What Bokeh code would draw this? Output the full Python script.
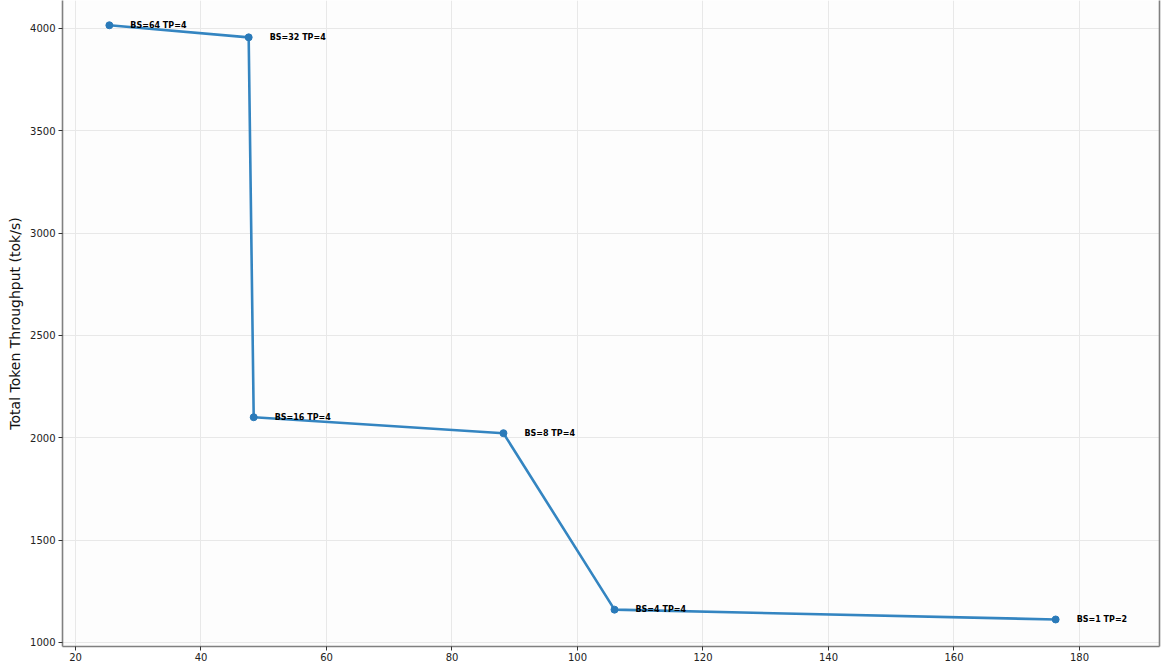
from bokeh.plotting import figure
from bokeh.models import ColumnDataSource, LinearAxis, Range1d, SingleIntervalTicker, FixedTicker
from bokeh.embed import file_html
from bokeh.resources import INLINE
from bokeh.core.properties import value

labels = ["BS=64 TP=4", "BS=32 TP=4", "BS=16 TP=4", "BS=8 TP=4", "BS=4 TP=4", "BS=1 TP=2"]
latency = [25.4, 47.6, 48.4, 88.2, 105.9, 176.2]
throughput = [4015, 3956, 2100, 2022, 1160, 1112]

src = ColumnDataSource(dict(x=latency, y=throughput, label=labels))

FONT = "DejaVu Sans"
p = figure(width=1170, height=663, output_backend="svg", toolbar_location=None,
           x_range=Range1d(17.93, 192.75), y_range=Range1d(980, 4136),
           min_border_left=62, min_border_right=11, min_border_top=0, min_border_bottom=0)
p.outline_line_color = None
p.background_fill_color = "#fdfdfd"
p.border_fill_color = "white"

p.line("x", "y", source=src, line_color="#3485c1", line_width=2.6)
p.scatter("x", "y", source=src, size=7, fill_color="#2a7ab9", line_color="#2a7ab9")
p.text("x", "y", text="label", source=src, x_offset=21, y_offset=0,
       text_baseline="middle", text_align="left", text_font_size="8px",
       text_font_style="bold", text_color="black", text_font=value(FONT))

for ax in (p.xaxis[0], p.yaxis[0]):
    ax.axis_line_color = "#808080"
    ax.axis_line_width = 1.6
    ax.major_tick_line_color = "#333333"
    ax.major_tick_out = 4
    ax.major_tick_in = 0
    ax.minor_tick_line_color = None
    ax.major_label_standoff = 3
    ax.major_label_text_font = FONT
    ax.major_label_text_font_size = "10px"
    ax.major_label_text_color = "#222222"

p.xaxis[0].major_label_standoff = 2
p.xaxis[0].ticker = SingleIntervalTicker(interval=20)
p.yaxis[0].ticker = SingleIntervalTicker(interval=500)
p.yaxis[0].axis_label = "Total Token Throughput (tok/s)"
p.yaxis[0].axis_label_text_font = FONT
p.yaxis[0].axis_label_text_font_size = "14px"
p.yaxis[0].axis_label_text_font_style = "normal"
p.yaxis[0].axis_label_text_color = "#111111"
p.yaxis[0].axis_label_standoff = 4

right = LinearAxis(axis_line_color="#808080", axis_line_width=1.6,
                   ticker=FixedTicker(ticks=[]),
                   major_tick_line_color=None, minor_tick_line_color=None,
                   major_tick_out=0, major_label_standoff=0,
                   major_label_text_font_size="0px")
p.add_layout(right, "right")

p.xgrid.grid_line_color = "#e8e8e8"
p.ygrid.grid_line_color = "#e8e8e8"
p.xgrid.ticker = SingleIntervalTicker(interval=20)
p.ygrid.ticker = SingleIntervalTicker(interval=500)

open("out.html", "w").write(file_html(p, INLINE))
